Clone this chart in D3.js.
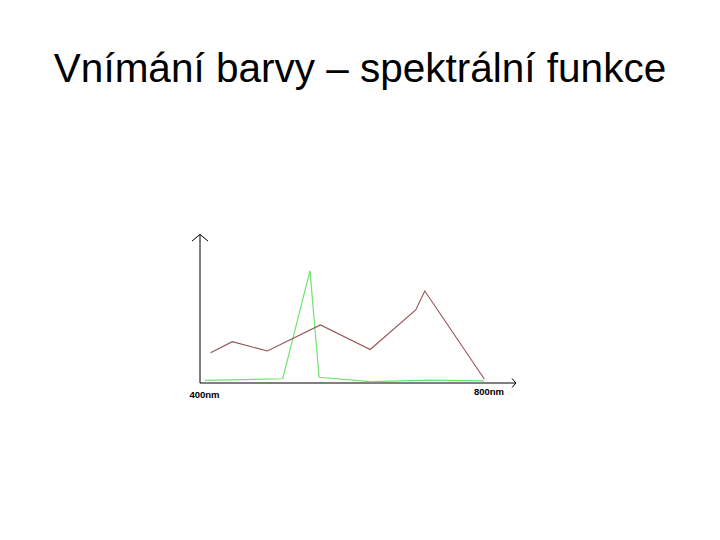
<!DOCTYPE html>
<html>
<head>
<meta charset="utf-8">
<script src="https://cdn.jsdelivr.net/npm/d3@7"></script>
<style>
  body { margin: 0; background: #fff; }
  svg { display: block; }
</style>
</head>
<body>
<svg id="chart" width="720" height="540"></svg>
<script>
// spectral curves, wavelength in nm, relative intensity 0..100
const brownNm = [408, 439, 489, 565, 636, 701, 714, 799];
const brownVal = [20.6, 28.1, 21.8, 39.5, 22.8, 49.7, 62.6, 2.7];
const greenNm = [400, 511, 550, 563, 636, 721, 799];
const greenVal = [1.8, 2.9, 76.4, 3.9, 1.0, 2.0, 1.4];
const tickLabels = ["400nm", "800nm"];

const svg = d3.select("#chart");

// title
svg.append("text")
    .attr("x", 360)
    .attr("y", 82)
    .attr("text-anchor", "middle")
    .style("font-family", "'Liberation Sans', Arial, sans-serif")
    .style("font-size", "40.5px")
    .text("Vnímání barvy – spektrální funkce");

const x = d3.scaleLinear().domain([400, 800]).range([205, 485]);
const y = d3.scaleLinear().domain([0, 100]).range([383, 236]);

// axes
const axis = svg.append("g")
    .attr("stroke", "#000")
    .attr("stroke-width", 1)
    .attr("fill", "none");
axis.append("line").attr("x1", 200).attr("y1", 383).attr("x2", 200).attr("y2", 234.5);
axis.append("line").attr("x1", 200).attr("y1", 383).attr("x2", 516).attr("y2", 383);
axis.append("path").attr("d", "M192,241L200,234.5L208,241");
axis.append("path").attr("d", "M512,378.5L516,383L512,387.5");

// tick labels
svg.selectAll(".tick-label")
    .data(tickLabels)
    .enter()
    .append("text")
      .attr("class", "tick-label")
      .attr("x", (d, i) => i === 0 ? 204.5 : 489)
      .attr("y", (d, i) => i === 0 ? 397.5 : 395)
      .attr("text-anchor", "middle")
      .style("font-family", "'Liberation Sans', Arial, sans-serif")
      .style("font-weight", "bold")
      .style("font-size", "9.5px")
      .text(d => d);

const line = d3.line()
    .x(d => x(d[0]))
    .y(d => y(d[1]));

svg.append("path")
    .datum(d3.zip(greenNm, greenVal))
    .attr("d", line)
    .attr("fill", "none")
    .attr("stroke", "#6ee36e")
    .attr("stroke-width", 1.2);

svg.append("path")
    .datum(d3.zip(brownNm, brownVal))
    .attr("d", line)
    .attr("fill", "none")
    .attr("stroke", "#955353")
    .attr("stroke-width", 1.1);
</script>
</body>
</html>
